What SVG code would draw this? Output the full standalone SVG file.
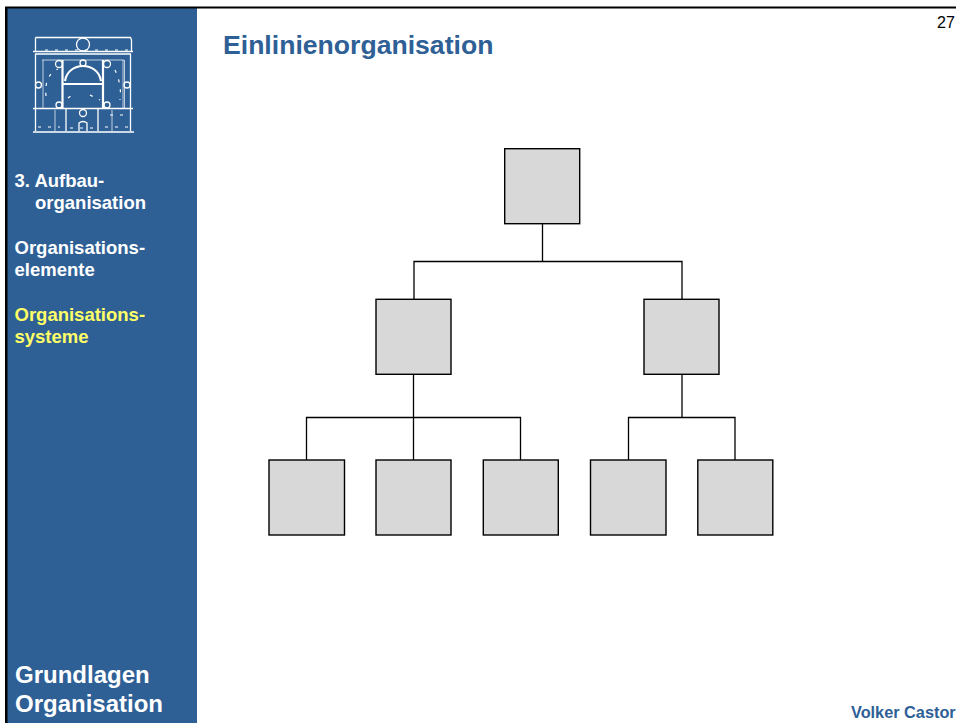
<svg xmlns="http://www.w3.org/2000/svg" width="956" height="723" viewBox="0 0 956 723">
<style>
text{font-family:"Liberation Sans",Arial,sans-serif;font-weight:bold}
.side{font-size:18.500px;fill:#fff}
.big{font-size:24px;fill:#fff}
.box{fill:#d8d8d8;stroke:#000;stroke-width:1.4}
.con{fill:none;stroke:#000;stroke-width:1.3}
.lg{fill:none;stroke:#fff;stroke-width:1.3}
.lgf{fill:none;stroke:#fff;stroke-width:1;opacity:.7}
.lgt{fill:none;stroke:#fff;stroke-width:2.200}
.lgd{fill:none;stroke:#fff;stroke-width:1.200;stroke-dasharray:3 7}
</style>
<rect width="956" height="723" fill="#fff"/>
<rect x="7" y="8" width="190" height="715" fill="#2e6096"/>
<rect x="5" y="6.500" width="951" height="2" fill="#000"/>
<rect x="5" y="7" width="2.500" height="716" fill="#000"/>
<g id="logo">
<path class="lg" d="M35.500 37.500H130.500L131.500 40V51M35.500 37.500V51M33 51.500H133M35 54H131M35.500 54V108M130.500 54V108M33 108.500H133M35.500 109V131M130.500 109V131M33 132H134"/>
<path class="lgf" d="M42 60H124M43 60V108M123 60V108M124.500 60V108M55 110V131M112 110V131"/>
<path class="lgt" d="M62.500 60V108M103 60V108M63 84H103"/>
<path class="lgt" d="M65 81C68 61 98 61 101 81"/>
<path class="lg" d="M66 108V131M98 108V131M79 131V123Q83 120 87 123V131"/>
<circle class="lg" cx="83" cy="44.500" r="6.500"/>
<circle class="lg" cx="59" cy="64" r="3.500"/>
<circle class="lg" cx="107" cy="64" r="3.500"/>
<circle class="lg" cx="38.500" cy="85" r="3"/>
<circle class="lg" cx="127" cy="85" r="3"/>
<circle class="lg" cx="59" cy="105" r="3"/>
<circle class="lg" cx="107" cy="105" r="3"/>
<circle class="lg" cx="83" cy="63" r="3"/>
<circle class="lg" cx="83" cy="113" r="3.500"/>
<path class="lgd" d="M45 50H130M46 96Q44 75 58 69M115 70Q122 85 120 100M68 98L76 92M90 95L100 100M110 115H128M38 127H60M70 128H98M105 127H128"/>
</g>
<g id="sidebar">
<text class="side" x="14.500" y="186.500">3. Aufbau-</text>
<text class="side" x="35" y="209">organisation</text>
<text class="side" x="14.500" y="254">Organisations-</text>
<text class="side" x="14.500" y="276">elemente</text>
<text class="side" x="14.500" y="321" style="fill:#ffff66">Organisations-</text>
<text class="side" x="14.500" y="343" style="fill:#ffff66">systeme</text>
<text class="big" x="15" y="683">Grundlagen</text>
<text class="big" x="15" y="712">Organisation</text>
</g>
<text id="title" x="223" y="54" font-size="26.600" fill="#2e6096">Einlinienorganisation</text>
<text id="page" x="937" y="28" font-size="16" style="font-weight:normal" fill="#000">27</text>
<text id="author" x="851" y="718" font-size="16.300" fill="#2e6096">Volker Castor</text>
<g id="connectors">
<path class="con" d="M542.500 224V261.500M414 299V261.500H682V299"/>
<path class="con" d="M413.500 375V460M306.500 460V417.500H520.500V460"/>
<path class="con" d="M682 375V417.500M628.500 460V417.500H735V460"/>
</g>
<g id="n1"><rect class="box" x="504.700" y="148.700" width="75" height="75"/></g>
<g id="n2"><rect class="box" x="376" y="299.300" width="75" height="75"/></g>
<g id="n3"><rect class="box" x="644" y="299.300" width="75" height="75"/></g>
<g id="n4"><rect class="box" x="269" y="460" width="75.500" height="75"/></g>
<g id="n5"><rect class="box" x="376" y="460" width="75" height="75"/></g>
<g id="n6"><rect class="box" x="483.300" y="460" width="75" height="75"/></g>
<g id="n7"><rect class="box" x="590.500" y="460" width="75.500" height="75"/></g>
<g id="n8"><rect class="box" x="697.800" y="460" width="75" height="75"/></g>
</svg>
